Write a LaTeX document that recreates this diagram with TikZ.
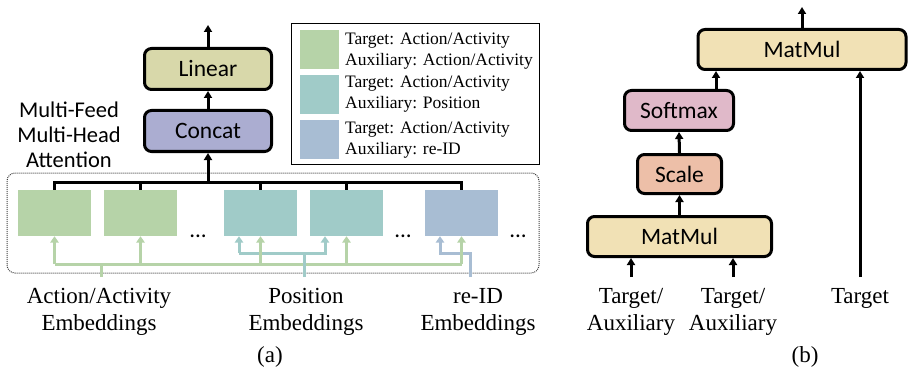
\documentclass[tikz,border=0pt]{standalone}
\usepackage{fontspec}
\setmainfont{Liberation Serif}
\newfontfamily\sansfont{Carlito}
\usetikzlibrary{arrows.meta}

\definecolor{linearfill}{HTML}{D8D8AA}
\definecolor{concatfill}{HTML}{ABADD1}
\definecolor{matmulfill}{HTML}{F1E1B5}
\definecolor{softmaxfill}{HTML}{E0B9C9}
\definecolor{scalefill}{HTML}{EDBFA8}
\definecolor{actgreen}{HTML}{B6D3A8}
\definecolor{posteal}{HTML}{A0CBC8}
\definecolor{reidblue}{HTML}{A8BDD3}

\begin{document}
\begin{tikzpicture}[x=1pt,y=-1pt,
  blk/.style={draw=black, line width=3pt, rounded corners=7pt, inner sep=0pt,
    font=\sansfont\fontsize{23.5}{26}\selectfont},
  emb/.style={inner sep=0pt, minimum width=73pt, minimum height=46pt},
  swatch/.style={inner sep=0pt, minimum width=39pt, minimum height=39pt},
  arr/.style={line width=3pt, -{Triangle[length=7pt,width=8pt]}},
  wire/.style={line width=3pt},
  carr/.style={line width=3pt, -{Triangle[length=6.5pt,width=8.5pt]}},
  cwire/.style={line width=3pt},
  serif/.style={inner sep=0pt, align=center, font=\fontsize{23}{27}\selectfont},
  legtext/.style={inner sep=0pt, align=left, anchor=west, font=\fontsize{17.5}{21}\selectfont},
  dots/.style={inner sep=0pt, anchor=base, font=\sansfont\fontsize{23}{24}\selectfont}]
\useasboundingbox (0,0) rectangle (910,377);

% ---------------- (a) multi-feed multi-head attention ----------------
\draw[black!75, line width=1pt, dash pattern=on 1pt off 1pt, rounded corners=8pt] (7,173) rectangle (539,273);

\node[blk, fill=linearfill, minimum width=127pt, minimum height=41pt] (lin) at (208,69) {Linear};
\node[blk, fill=concatfill, minimum width=127pt, minimum height=41pt] (cat) at (208,131) {Concat};
\node[inner sep=0pt, align=center, font=\sansfont\fontsize{22.5}{25}\selectfont] (mfl) at (69,135)
  {Multi-Feed\\Multi-Head\\Attention};

\node[emb, fill=actgreen] (e1) at (54.5,213) {};
\node[emb, fill=actgreen] (e2) at (140.5,213) {};
\node[emb, fill=posteal] (e3) at (260.5,213) {};
\node[emb, fill=posteal] (e4) at (346.5,213) {};
\node[emb, fill=reidblue] (e5) at (461.5,213) {};
\node[dots] (d1) at (198,237) {...};
\node[dots] (d2) at (403,237) {...};
\node[dots] (d3) at (518,237) {...};

% heads gathered into Concat
\coordinate (bus) at (208,182);
\draw[wire] (e1.north) |- (bus) -| (e5.north);
\foreach \e in {e2,e3,e4} \draw[wire] (\e.north) -- (\e.north |- bus);
\draw[arr] (bus) -- (cat.south);
\draw[arr] (cat.north) -- (lin.south);
\coordinate (outa) at (208,25);
\draw[arr] (lin.north) -- (outa);

% legend
\draw[line width=1pt] (291,24) rectangle (539,164);
\node[swatch, fill=actgreen] (s1) at (319.5,49.5) {};
\node[swatch, fill=posteal] (s2) at (319.5,94.5) {};
\node[swatch, fill=reidblue] (s3) at (319.5,139.5) {};
\node[legtext] (l1) at (345,51) {Target: Action/Activity\\Auxiliary: Action/Activity};
\node[legtext] (l2) at (345,94) {Target: Action/Activity\\Auxiliary: Position};
\node[legtext] (l3) at (345,140) {Target: Action/Activity\\Auxiliary: re-ID};

% embedding sources
\node[serif, anchor=north] (srcA) at (99,288) {Action/Activity\\Embeddings};
\node[serif, anchor=north] (srcP) at (306,288) {Position\\Embeddings};
\node[serif, anchor=north] (srcR) at (478,288) {re-ID\\Embeddings};

\coordinate (gbus) at (101,264);
\coordinate (tbus) at (304,253);
\coordinate (bbus) at (470,253);

% green feed: one bus to every head
\draw[cwire, actgreen] (e1.south |- gbus) -- (e5.south |- gbus);
\draw[cwire, actgreen] ([yshift=11pt]srcA.north -| gbus) -- (gbus);
% teal feed: position heads
\draw[cwire, posteal] ([yshift=11pt]srcP.north -| tbus) -- (tbus);
\draw[carr, posteal] ([xshift=-21.5pt]e3.south |- tbus) -- ([xshift=-21.5pt]e3.south);
\draw[carr, posteal] ([xshift=-21.5pt]e3.south |- tbus) -- ([xshift=-21.5pt]e4.south |- tbus) -- ([xshift=-21.5pt]e4.south);
% blue feed: re-ID head
\draw[carr, reidblue] ([yshift=11pt]srcR.north -| bbus) -- (bbus) -- ([xshift=-21.5pt]e5.south |- bbus) -- ([xshift=-21.5pt]e5.south);
\foreach \e in {e1,e2,e3,e4,e5} \draw[carr, actgreen] (\e.south |- gbus) -- (\e.south);

\node[serif] (capa) at (270,357) {(a)};

% ---------------- (b) attention head ----------------
\node[blk, fill=matmulfill, minimum width=208pt, minimum height=40pt] (mm2) at (802,49.5) {MatMul};
\node[blk, fill=softmaxfill, minimum width=109pt, minimum height=40pt] (sm) at (679,110.5) {Softmax};
\node[blk, fill=scalefill, minimum width=84pt, minimum height=39pt] (sc) at (679.5,174) {Scale};
\node[blk, fill=matmulfill, minimum width=184pt, minimum height=40pt] (mm1) at (679.5,236.5) {MatMul};

\node[serif, anchor=north] (in1) at (631,288) {Target/\\Auxiliary};
\node[serif, anchor=north] (in2) at (733,288) {Target/\\Auxiliary};
\node[serif, anchor=north] (in3) at (860,288) {Target};

\draw[arr] ([yshift=11pt]in1.north) -- (mm1.south -| in1.north);
\draw[arr] ([yshift=11pt]in2.north) -- (mm1.south -| in2.north);
\draw[arr] ([yshift=11pt]in3.north) -- (mm2.south -| in3.north);
\draw[arr] (mm1.north) -- (sc.south);
\draw[arr] (sc.north) -- (sm.south);
\coordinate (smx) at (716,0);
\draw[arr] (sm.north -| smx) -- (mm2.south -| smx);
\coordinate (outb) at (802,7);
\draw[arr] (mm2.north) -- (outb);

\node[serif] (capb) at (805,357) {(b)};
\end{tikzpicture}
\end{document}
